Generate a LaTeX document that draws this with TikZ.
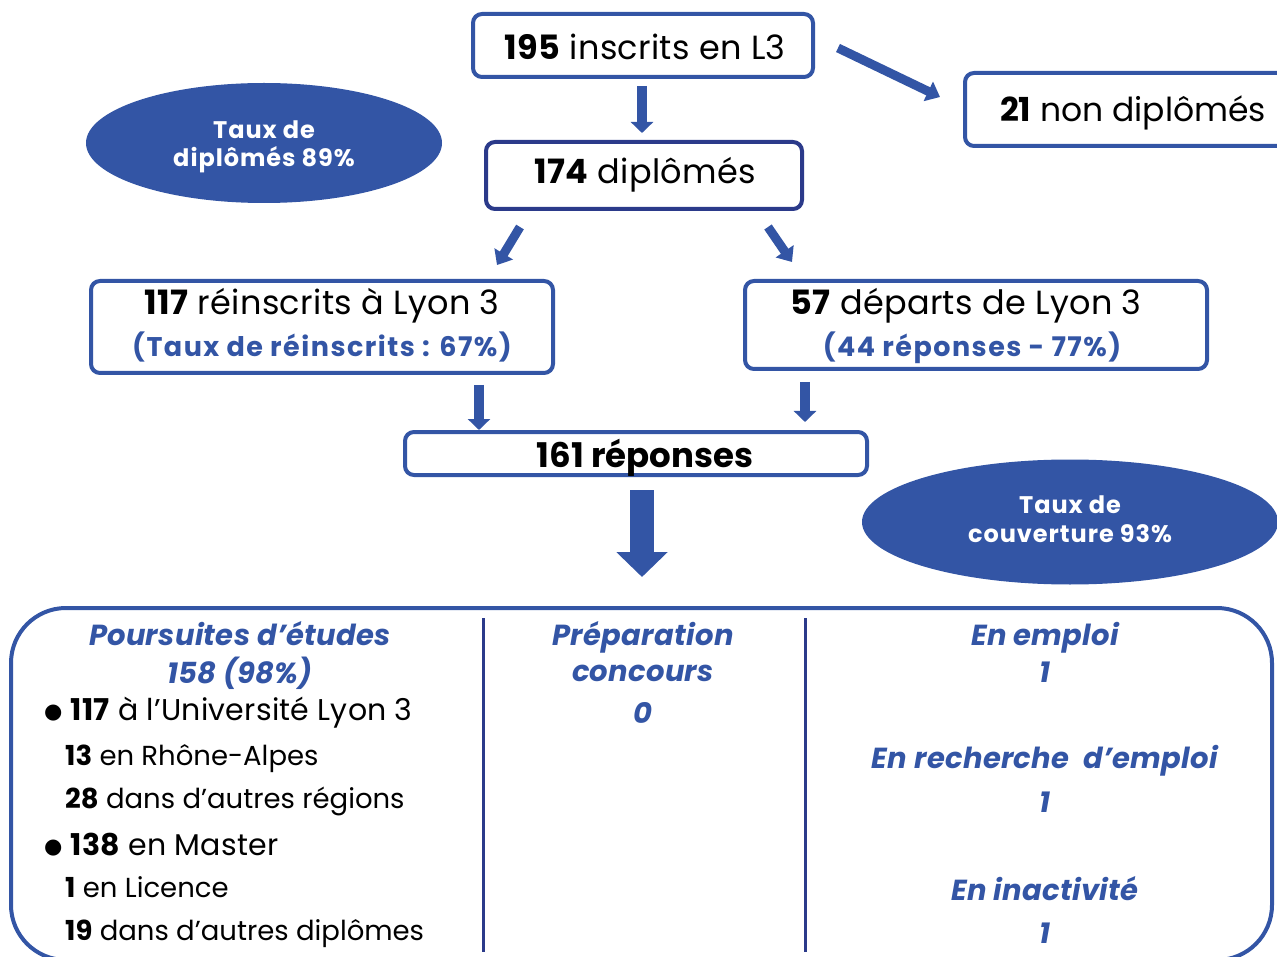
\documentclass[tikz,border=0pt]{standalone}
\usepackage{fontspec}
\setmainfont{Poppins}
\newfontfamily\dejavu{DejaVu Sans}
\usetikzlibrary{arrows.meta,shapes.geometric}
\definecolor{cblue}{HTML}{3355A5}
\definecolor{cdark}{HTML}{2B3A8A}
\newcommand{\mybullet}{\raisebox{1.5pt}{\dejavu\fontsize{21}{24}\selectfont ●}}
\begin{document}
\begin{tikzpicture}[x=1pt,y=-1pt,
  box/.style={draw=cblue, line width=4pt, rounded corners=9pt, inner sep=0pt, fill=white},
  darkbox/.style={box, draw=cdark},
  oval/.style={ellipse, fill=cblue, draw=none, inner sep=0pt},
  arr/.style={draw=cblue, line width=10pt, -{Triangle[width=22pt,length=11pt]}},
  darr/.style={draw=cblue, line width=9pt, -{Triangle[width=21pt,length=13pt]}},
  bigarr/.style={draw=cblue, line width=24pt, -{Triangle[width=50pt,length=25pt]}},
  txt/.style={anchor=base, inner sep=0pt, font=\fontsize{33.5}{38}\selectfont\addfontfeature{LetterSpace=1}, text=black},
  btxt/.style={anchor=base, inner sep=0pt, font=\fontsize{27}{31}\selectfont\bfseries\addfontfeature{LetterSpace=5.5}, text=cblue},
  wtxt/.style={anchor=base, inner sep=0pt, font=\fontsize{24}{29}\selectfont\bfseries\addfontfeature{LetterSpace=4}, text=white},
  head/.style={anchor=base, inner sep=0pt, font=\fontsize{29}{33}\selectfont\bfseries\itshape\addfontfeature{LetterSpace=1}, text=cblue},
  item/.style={anchor=base west, inner sep=0pt, font=\fontsize{27.5}{31}\selectfont, text=black},
  bitem/.style={item, font=\fontsize{30}{34}\selectfont\addfontfeature{LetterSpace=0.8}},
  divider/.style={draw=cdark, line width=3pt}
]
\useasboundingbox (0,0) rectangle (1277,957);
\clip (0,0) rectangle (1277,957);

% ellipses
\node[oval, minimum width=356, minimum height=120] (e1) at (264,143) {};
\node[wtxt] (e1a) at (264,139) {Taux de};
\node[wtxt] (e1b) at (264,167) {diplômés 89\%};
\node[oval, minimum width=416, minimum height=125] (e2) at (1070,522) {};
\node[wtxt] (e2a) at (1070,513) {Taux de};
\node[wtxt] (e2b) at (1070,542) {couverture 93\%};

% boxes
\node[box, minimum width=340, minimum height=63] (b1) at (643,45.5) {};
\node[txt] (t1) at (645,60) {\textbf{195} inscrits en L3};
\node[darkbox, minimum width=316, minimum height=67] (b2) at (644,175.5) {};
\node[txt] (t2) at (645,184) {\textbf{174} diplômés};
\node[box, minimum width=336, minimum height=73] (b21) at (1133,109.5) {};
\node[txt, font=\fontsize{33}{38}\selectfont] (t21) at (1133,122) {\textbf{21} non diplômés};
\node[box, minimum width=462, minimum height=92] (b3) at (322,327) {};
\node[txt] (t3a) at (322,315) {\textbf{117} réinscrits à Lyon 3};
\node[btxt] (t3b) at (322,357) {(Taux de réinscrits : 67\%)};
\node[box, minimum width=462, minimum height=88] (b4) at (976,325) {};
\node[txt] (t4a) at (966,315) {\textbf{57} départs de Lyon 3};
\node[btxt] (t4b) at (972,357) {(44 réponses - 77\%)};
\node[box, minimum width=462, minimum height=43] (b5) at (636,453.5) {};
\node[txt, font=\fontsize{34}{40}\selectfont\bfseries] (t5) at (645,467) {161 réponses};

% bottom panel
\node[box, rounded corners=55pt, minimum width=1261, minimum height=352, fill=none] (panel) at (641.5,784) {};
\coordinate (v1t) at (483,618);
\coordinate (v1b) at (483,952);
\coordinate (v2t) at (805,618);
\coordinate (v2b) at (805,952);
\draw[divider] (v1t) -- (v1b);
\draw[divider] (v2t) -- (v2b);

% arrows
\draw[arr, shorten <=7pt, shorten >=7pt] ([xshift=-1pt]b1.south) -- ([xshift=-1pt]b1.south |- b2.north);
\coordinate (d1s) at (838,48);
\coordinate (d1e) at (940,97);
\draw[darr] (d1s) -- (d1e);
\coordinate (d2s) at (520,227);
\coordinate (d2e) at (497,265);
\draw[darr] (d2s) -- (d2e);
\coordinate (d3s) at (768,227);
\coordinate (d3e) at (792,262);
\draw[darr] (d3s) -- (d3e);
\coordinate (a3s) at (479,385);
\draw[arr] (a3s) -- (a3s |- b5.north);
\coordinate (a4s) at (805,382);
\draw[arr, shorten >=8pt] (a4s) -- (a4s |- b5.north);
\coordinate (a5s) at (642,490);
\coordinate (a5e) at (642,577);
\draw[bigarr] (a5s) -- (a5e);

% column 1
\node[head] (h1a) at (240,645) {Poursuites d'études};
\node[head] (h1b) at (240,683) {158 (98\%)};
\node[bitem] (i1) at (44,720) {\mybullet\ \textbf{117} à l'Université Lyon 3};
\node[item] (i2) at (65,765) {\textbf{13} en Rhône-Alpes};
\node[item] (i3) at (65,808) {\textbf{28} dans d'autres régions};
\node[bitem] (i4) at (44,855) {\mybullet\ \textbf{138} en Master};
\node[item] (i5) at (65,897) {\textbf{1} en Licence};
\node[item] (i6) at (65,940) {\textbf{19} dans d'autres diplômes};

% column 2
\node[head] (h2a) at (643,645) {Préparation};
\node[head] (h2b) at (643,681) {concours};
\node[head] (h2c) at (643,723) {0};

% column 3
\node[head] (h3a) at (1045,645) {En emploi};
\node[head] (h3b) at (1045,682) {1};
\node[head] (h3c) at (1045,768) {En recherche\ \ d'emploi};
\node[head] (h3d) at (1045,812) {1};
\node[head] (h3e) at (1045,900) {En inactivité};
\node[head] (h3f) at (1045,943) {1};
\end{tikzpicture}
\end{document}
